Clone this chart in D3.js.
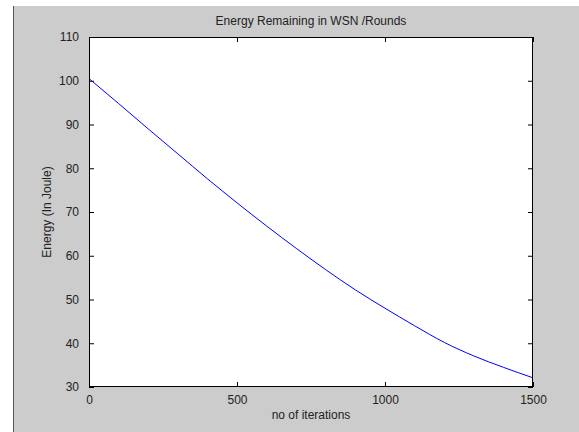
<!DOCTYPE html>
<html><head><meta charset="utf-8">
<script src="https://cdn.jsdelivr.net/npm/d3@7"></script>
<style>html,body{margin:0;padding:0;background:#fff;}svg{display:block;font-family:"Liberation Sans",Arial,sans-serif;}</style>
</head><body>
<svg id="c" width="579" height="432"></svg>
<script>
const iterations = [0,100,200,300,400,500,600,700,800,900,1000,1100,1200,1300,1400,1500];
const energy = [100.5,94.8,89.0,83.3,77.6,72.1,66.8,61.7,56.8,52.2,48.0,44.0,40.2,37.1,34.5,32.1];
const xTicks = [0,500,1000,1500];
const yTicks = [30,40,50,60,70,80,90,100,110];
const title = "Energy Remaining in WSN /Rounds";
const xLabel = "no of iterations";
const yLabel = "Energy (In Joule)";

const svg = d3.select("#c");
svg.append("rect").attr("x",13).attr("y",6).attr("width",566).attr("height",426).attr("fill","#cccccc");
svg.append("line").attr("x1",13.5).attr("x2",13.5).attr("y1",6).attr("y2",432).attr("stroke","#555").attr("stroke-width",1);

const L=89, R=533, T=37, B=387;
const x = d3.scaleLinear().domain([0,1500]).range([L,R]);
const y = d3.scaleLinear().domain([30,110]).range([B,T]);

svg.append("rect").attr("x",L).attr("y",T).attr("width",R-L).attr("height",B-T).attr("fill","#fff");

const g = svg.append("g");
const styleAxis = sel => {
  sel.select(".domain").remove();
  sel.selectAll(".tick line").attr("stroke","#000");
  sel.selectAll(".tick text").attr("fill","#222").style("font-size","12px").style("font-family","Liberation Sans, Arial, sans-serif");
};
g.append("g").attr("transform",`translate(0,${B})`).call(d3.axisBottom(x).tickValues(xTicks).tickSizeInner(-5).tickSizeOuter(0).tickPadding(8).tickFormat(d3.format("d"))).call(styleAxis);
g.append("g").attr("transform",`translate(0,${T})`).call(d3.axisTop(x).tickValues(xTicks).tickSizeInner(-5).tickSizeOuter(0).tickFormat("")).call(styleAxis);
g.append("g").attr("transform",`translate(${L},0)`).call(d3.axisLeft(y).tickValues(yTicks).tickSizeInner(-5).tickSizeOuter(0).tickPadding(10).tickFormat(d3.format("d"))).call(styleAxis);
g.append("g").attr("transform",`translate(${R},0)`).call(d3.axisRight(y).tickValues(yTicks).tickSizeInner(-5).tickSizeOuter(0).tickFormat("")).call(styleAxis);

const line = d3.line().x((d,i)=>x(iterations[i])).y(d=>y(d)).curve(d3.curveMonotoneX);
svg.append("path").datum(energy).attr("d",line).attr("fill","none").attr("stroke","#0000ff").attr("stroke-width",1);

svg.append("rect").attr("x",L+0.5).attr("y",T+0.5).attr("width",R-L-1).attr("height",B-T-1).attr("fill","none").attr("stroke","#000").attr("stroke-width",1);

svg.append("text").attr("x",(L+R)/2).attr("y",25).attr("text-anchor","middle").attr("fill","#222").style("font-size","12px").text(title);
svg.append("text").attr("x",(L+R)/2).attr("y",419).attr("text-anchor","middle").attr("fill","#222").style("font-size","12px").text(xLabel);
svg.append("text").attr("transform",`translate(51,${(T+B)/2}) rotate(-90)`).attr("text-anchor","middle").attr("fill","#222").style("font-size","12px").text(yLabel);
</script>
</body></html>
